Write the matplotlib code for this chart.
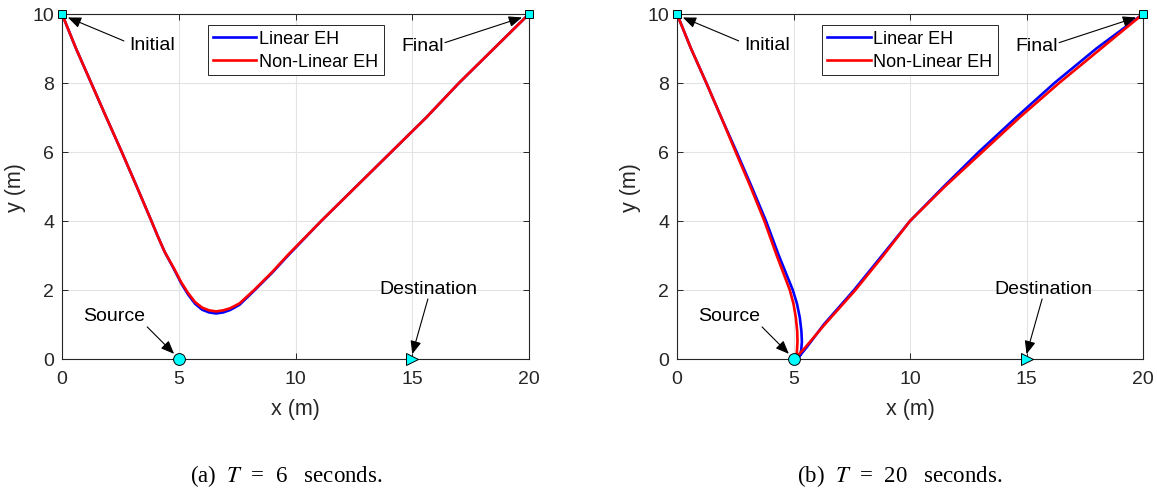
import matplotlib
matplotlib.use("Agg")
import matplotlib.pyplot as plt

plt.rcParams['font.family'] = ['Liberation Sans', 'DejaVu Sans']
plt.rcParams['mathtext.fontset'] = 'stix'

# ---- data: T = 6 s ----
a_x = [0, 0.6, 1.25, 1.9, 2.56, 3.2, 3.83, 4.1, 4.4, 4.8, 5.1, 5.4, 5.7, 6.0, 6.3, 6.6, 6.9, 7.2, 7.6,
       8.26, 9.0, 9.68, 11.1, 12.6, 14.1, 15.6, 17.0, 18.5, 20]
a_lin_y = [10, 9.0, 8.0, 7.0, 6.0, 5.0, 4.0, 3.56, 3.1, 2.6, 2.2, 1.87, 1.6, 1.43, 1.35, 1.32, 1.35, 1.42, 1.57,
           2.0, 2.5, 3.0, 4.0, 5.0, 6.0, 7.0, 8.0, 9.0, 10]
a_nl_y = [10, 9.0, 8.0, 7.0, 6.0, 5.0, 4.0, 3.56, 3.1, 2.62, 2.23, 1.91, 1.65, 1.49, 1.41, 1.38, 1.41, 1.47, 1.61,
          2.02, 2.52, 3.02, 4.0, 5.0, 6.0, 7.0, 8.0, 9.0, 10]

# ---- data: T = 20 s ----
b_lin_x = [0, 0.6, 1.26, 1.9, 2.56, 3.2, 3.82, 4.37, 4.97, 5.15, 5.27, 5.34, 5.36, 5.33, 5.27, 5.22,
           5.6, 6.3, 7.6, 8.8, 10.0, 11.45, 12.95, 14.55, 16.2, 18.0, 20]
b_lin_y = [10, 9.0, 8.0, 7.0, 6.0, 5.0, 4.0, 3.0, 2.0, 1.6, 1.2, 0.8, 0.5, 0.25, 0.1, 0.05,
           0.37, 1.0, 2.0, 3.0, 4.0, 5.0, 6.0, 7.0, 8.0, 9.0, 10]
b_nl_x = [0, 0.6, 1.26, 1.9, 2.52, 3.15, 3.75, 4.28, 4.84, 5.0, 5.1, 5.16, 5.17, 5.15, 5.13, 5.12,
          5.55, 6.3, 7.62, 8.82, 10.0, 11.5, 13.1, 14.7, 16.4, 18.2, 20]
b_nl_y = [10, 9.0, 8.0, 7.0, 6.0, 5.0, 4.0, 3.0, 2.0, 1.6, 1.2, 0.8, 0.5, 0.25, 0.1, 0.05,
          0.37, 0.97, 1.97, 2.97, 4.0, 5.0, 6.0, 7.0, 8.0, 9.0, 10]

initial_pt = (0, 10)
final_pt = (20, 10)
source_pt = (5, 0)
dest_pt = (15, 0)

panels = [
    (a_x, a_lin_y, a_x, a_nl_y, "(a)  $T$  =  6   seconds."),
    (b_lin_x, b_lin_y, b_nl_x, b_nl_y, "(b)  $T$  =  20   seconds."),
]

W, H = 1157, 489
fig = plt.figure(figsize=(W / 100, H / 100), dpi=100)
axes_px = [(62, 529), (677, 1143)]
top_px, bot_px = 15, 360
caption_cx = [286, 900]

dark = '#262626'
for (lx, ly, nx, ny, cap), (x0, x1), ccx in zip(panels, axes_px, caption_cx):
    ax = fig.add_axes([x0 / W, 1 - bot_px / H, (x1 - x0) / W, (bot_px - top_px) / H])
    ax.plot(lx, ly, color='#0000ff', lw=1.9, label='Linear EH', zorder=3)
    ax.plot(nx, ny, color='#ff0000', lw=1.9, label='Non-Linear EH', zorder=4)
    ax.plot(*initial_pt, marker='s', ms=6, mfc='#00ffff', mec='k', mew=0.7, clip_on=False, zorder=6)
    ax.plot(*final_pt, marker='s', ms=6, mfc='#00ffff', mec='k', mew=0.7, clip_on=False, zorder=6)
    ax.plot(*source_pt, marker='o', ms=8.5, mfc='#00ffff', mec='k', mew=0.7, clip_on=False, zorder=6)
    ax.plot(*dest_pt, marker='>', ms=8.5, mfc='#00ffff', mec='k', mew=0.7, clip_on=False, zorder=6)

    ax.set_xlim(0, 20)
    ax.set_ylim(0, 10)
    ax.set_xticks([0, 5, 10, 15, 20])
    ax.set_yticks([0, 2, 4, 6, 8, 10])
    ax.grid(True, color='#e3e3e3', lw=0.8)
    ax.set_axisbelow(True)
    ax.tick_params(direction='in', top=True, right=True, length=4, width=0.7,
                   colors=dark, labelsize=14)
    ax.tick_params(axis='x', pad=8)
    ax.tick_params(axis='y', pad=5.5)
    for s in ax.spines.values():
        s.set_color(dark)
        s.set_linewidth(0.8)
    ax.set_xlabel('x (m)', fontsize=15.5, color=dark, labelpad=7.5)
    ax.set_ylabel('y (m)', fontsize=15.5, color=dark, labelpad=5)

    aprops = dict(arrowstyle='-|>,head_length=0.8,head_width=0.33', color='k', lw=0.8,
                  shrinkA=0, shrinkB=0)
    fs = 14
    ax.annotate('', xy=(0.25, 9.9), xytext=(2.65, 9.22), arrowprops=aprops)
    ax.text(2.9, 9.12, 'Initial', fontsize=fs, va='center', ha='left')
    ax.annotate('', xy=(19.7, 9.9), xytext=(16.4, 9.17), arrowprops=aprops)
    ax.text(16.35, 9.1, 'Final', fontsize=fs, va='center', ha='right')
    ax.annotate('', xy=(4.8, 0.15), xytext=(3.65, 0.93), arrowprops=aprops)
    ax.text(0.9, 1.27, 'Source', fontsize=fs, va='center', ha='left')
    ax.annotate('', xy=(15.0, 0.14), xytext=(15.67, 1.74), arrowprops=aprops)
    ax.text(13.6, 2.03, 'Destination', fontsize=fs, va='center', ha='left')

    leg = ax.legend(loc='upper center', bbox_to_anchor=(0.5, 0.968), fontsize=13,
                    frameon=True, fancybox=False, edgecolor=dark, framealpha=1,
                    handlelength=2.4, handletextpad=0.15, borderpad=0.3, labelspacing=0.3,
                    borderaxespad=0)
    leg.get_frame().set_linewidth(0.7)

    fig.text(ccx / W, 1 - 476 / H, cap, ha='center', va='center', fontsize=16.5,
             family=['Liberation Serif', 'DejaVu Serif'])

fig.savefig('out.png', dpi=100)
